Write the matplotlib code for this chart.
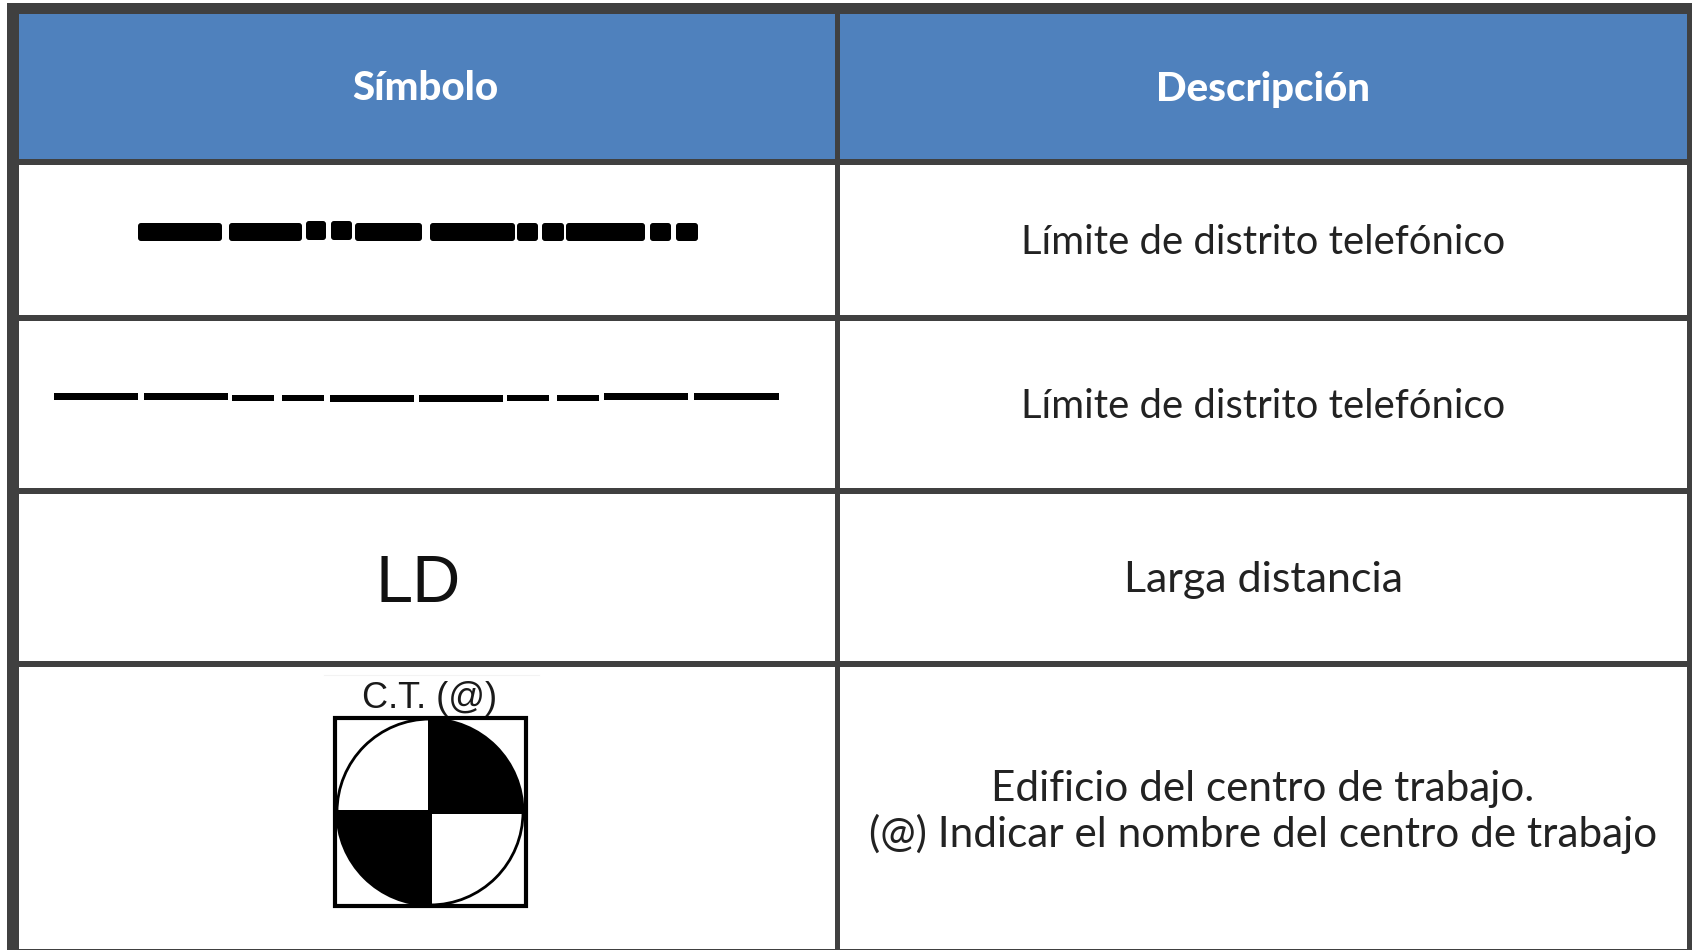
import matplotlib
matplotlib.use("Agg")
from matplotlib import pyplot as plt
from matplotlib.patches import Rectangle, Circle, FancyBboxPatch

# table content
headers = ["Símbolo", "Descripción"]
descriptions = [
    "Límite de distrito telefónico",
    "Límite de distrito telefónico",
    "Larga distancia",
    "Edificio del centro de trabajo.\n(@) Indicar el nombre del centro de trabajo",
]
ld_label = "LD"
ct_label = "C.T. (@)"

# dash extents in pixels (start, end, top, bottom)
thick_dashes = [
    (138, 222, 223, 241), (229, 302, 223, 241), (306, 326, 221, 240),
    (331, 352, 221, 240), (355, 422, 223, 241), (430, 515, 223, 241),
    (517, 538, 223, 241), (542, 564, 223, 241), (566, 645, 223, 241),
    (650, 671, 223, 241), (676, 698, 223, 241),
]
thin_dashes = [
    (54, 138, 393, 400), (144, 228, 393, 400), (232, 274, 395, 401),
    (282, 324, 395, 401), (330, 414, 395, 402), (419, 503, 395, 402),
    (507, 549, 395, 401), (557, 599, 395, 401), (604, 688, 393, 400),
    (694, 779, 393, 400),
]

BORDER = "#404040"
HEADER = "#4F81BD"
TEXT_FONT = "Lato"
SYMBOL_FONT = "Liberation Sans"


def draw_grid(ax):
    ax.add_patch(Rectangle((19, 14), 1668, 145, fc=HEADER, ec="none"))
    # horizontal rules
    for top, bottom in [(3, 14), (159, 165), (315, 321), (488, 494), (661, 667), (949, 950)]:
        ax.add_patch(Rectangle((7, top), 1685, bottom - top, fc=BORDER, ec="none"))
    # vertical rules
    for left, right in [(7, 19), (835, 840), (1687, 1692)]:
        ax.add_patch(Rectangle((left, 3), right - left, 947, fc=BORDER, ec="none"))


def draw_site_symbol(ax):
    ax.plot([324, 539], [674.5, 674.5], color="#f3f3f3", lw=0.8)
    ax.text(430, 698, ct_label, family=SYMBOL_FONT, fontsize=26, color="#1a1a1a",
            ha="center", va="center")
    ax.add_patch(Rectangle((335, 718), 191, 188, fc="white", ec="black", lw=3))
    ring = Circle((430, 812), 93, fc="none", ec="black", lw=2)
    ax.add_patch(ring)
    disc = Circle((430, 812), 93, transform=ax.transData)
    for xy, w, h in [((428, 715), 110, 99), ((325, 810), 107, 100)]:
        q = Rectangle(xy, w, h, fc="black", ec="none")
        ax.add_patch(q)
        q.set_clip_path(disc)


def main():
    fig = plt.figure(figsize=(16.94, 9.5), dpi=100)
    ax = fig.add_axes([0, 0, 1, 1])
    ax.set_xlim(0, 1694)
    ax.set_ylim(950, 0)
    ax.axis("off")

    draw_grid(ax)

    for x, label in zip([425, 1263], headers):
        ax.text(x, 89, label, family=TEXT_FONT, fontsize=29, fontweight="black",
                color="white", ha="center", va="center")

    # the thick line has slightly rounded dash ends
    for x0, x1, y0, y1 in thick_dashes:
        ax.add_patch(FancyBboxPatch((x0 + 3, y0 + 3), x1 - x0 - 6, y1 - y0 - 6,
                                    boxstyle="round,pad=3,rounding_size=3",
                                    fc="black", ec="none"))
    for x0, x1, y0, y1 in thin_dashes:
        ax.add_patch(Rectangle((x0, y0), x1 - x0, y1 - y0, fc="black", ec="none"))

    # Lato runs narrower than the original face, sizes set per row to fit the widths
    for y, text, size in zip([243, 407, 580, 812], descriptions, [28.8, 28.8, 31, 30.4]):
        ax.text(1263, y, text, family=TEXT_FONT, fontsize=size, color="#222222",
                ha="center", va="center", linespacing=1.2)

    ax.text(418, 585, ld_label, family=SYMBOL_FONT, fontsize=48, color="#111111",
            ha="center", va="center")
    draw_site_symbol(ax)

    fig.savefig("out.png", dpi=100)


if __name__ == "__main__":
    main()
